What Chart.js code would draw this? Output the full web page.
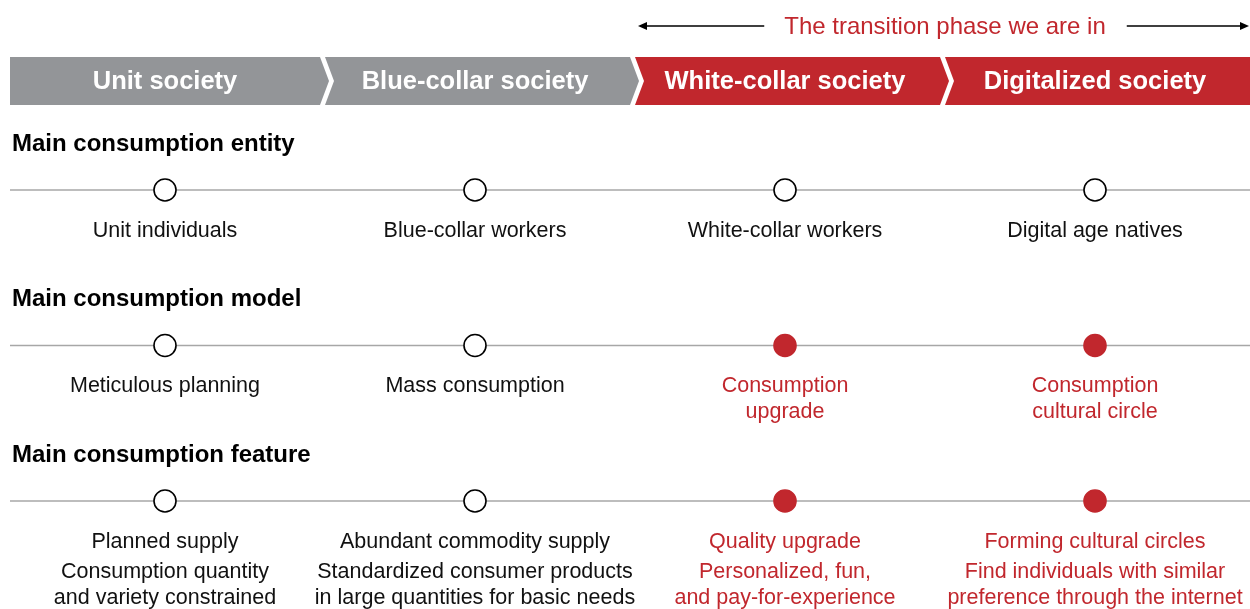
<!DOCTYPE html>
<html>
<head>
<meta charset="utf-8">
<script src="https://cdn.jsdelivr.net/npm/chart.js@4.4.1/dist/chart.umd.min.js"></script>
<style>
  html, body { margin: 0; padding: 0; background: #fff; }
  #wrap { width: 1250px; height: 609px; position: relative; }
</style>
</head>
<body>
<div id="wrap"><canvas id="chart"></canvas></div>
<script>
// stages across the top banner
const stages = ['Unit society', 'Blue-collar society', 'White-collar society', 'Digitalized society'];
const stageHighlight = [false, false, true, true];
const transitionText = 'The transition phase we are in';
const transitionFrom = 2;

// rows of the diagram
const rowTitles = ['Main consumption entity', 'Main consumption model', 'Main consumption feature'];
const entityLabels = [['Unit individuals'], ['Blue-collar workers'], ['White-collar workers'], ['Digital age natives']];
const modelLabels = [['Meticulous planning'], ['Mass consumption'], ['Consumption', 'upgrade'], ['Consumption', 'cultural circle']];
const featureLabels = [
    ['Planned supply', 'Consumption quantity', 'and variety constrained'],
    ['Abundant commodity supply', 'Standardized consumer products', 'in large quantities for basic needs'],
    ['Quality upgrade', 'Personalized, fun,', 'and pay-for-experience'],
    ['Forming cultural circles', 'Find individuals with similar', 'preference through the internet']
];
const entityFilled = [false, false, false, false];
const modelFilled = [false, false, true, true];
const featureFilled = [false, false, true, true];

const rowLabels = [entityLabels, modelLabels, featureLabels];
const rowFilled = [entityFilled, modelFilled, featureFilled];

const RED = '#c1272d';
const GREY = '#939598';
const FONT = '"Liberation Sans", Arial, Helvetica, sans-serif';

const datasets = [];
rowTitles.forEach((title, r) => {
    datasets.push({
        label: title + ' dots',
        data: stages.map((s, i) => ({ x: i, y: r })),
        showLine: false,
        pointRadius: 11,
        pointBorderWidth: 1.6,
        pointBackgroundColor: rowFilled[r].map(f => f ? RED : '#ffffff'),
        pointBorderColor: rowFilled[r].map(f => f ? RED : '#000000'),
        order: 0
    });
    datasets.push({
        label: title + ' line',
        data: [{ x: -0.5, y: r }, { x: stages.length - 0.5, y: r }],
        showLine: true,
        pointRadius: 0,
        borderColor: '#a7a7a7',
        borderWidth: 1.5,
        order: 1
    });
});

function arrowHead(ctx, tipX, y, dir) {
    ctx.beginPath();
    ctx.moveTo(tipX, y);
    ctx.lineTo(tipX - dir * 9, y - 4);
    ctx.lineTo(tipX - dir * 9, y + 4);
    ctx.closePath();
    ctx.fill();
}

const diagramPlugin = {
    id: 'diagram',
    beforeDatasetsDraw(chart) {
        const { ctx, scales: { x, y } } = chart;
        const row0 = y.getPixelForValue(0);
        const top = row0 - 133, bottom = row0 - 85, mid = (top + bottom) / 2;
        ctx.save();
        stages.forEach((name, i) => {
            const l = x.getPixelForValue(i - 0.5), r = x.getPixelForValue(i + 0.5);
            const first = i === 0, last = i === stages.length - 1;
            ctx.beginPath();
            ctx.moveTo(first ? l : l + 5, top);
            ctx.lineTo(r, top);
            if (!last) ctx.lineTo(r + 9, mid);
            ctx.lineTo(r, bottom);
            ctx.lineTo(first ? l : l + 5, bottom);
            if (!first) ctx.lineTo(l + 14, mid);
            ctx.closePath();
            ctx.fillStyle = stageHighlight[i] ? RED : GREY;
            ctx.fill();
            ctx.fillStyle = '#ffffff';
            ctx.font = 'bold 25.5px ' + FONT;
            ctx.textAlign = 'center';
            ctx.textBaseline = 'middle';
            ctx.fillText(name, (l + r) / 2, mid + 1);
        });

        // transition arrow
        const ay = row0 - 164;
        const tl = x.getPixelForValue(transitionFrom - 0.5) + 8;
        const tr = x.getPixelForValue(stages.length - 0.5) - 1;
        const tc = x.getPixelForValue((transitionFrom - 0.5 + stages.length - 0.5) / 2) + 5;
        ctx.font = '24px ' + FONT;
        const tw = ctx.measureText(transitionText).width;
        ctx.fillStyle = RED;
        ctx.fillText(transitionText, tc, ay + 1);
        ctx.strokeStyle = '#000000';
        ctx.fillStyle = '#000000';
        ctx.lineWidth = 1.3;
        ctx.beginPath();
        ctx.moveTo(tl + 4, ay);
        ctx.lineTo(tc - tw / 2 - 20, ay);
        ctx.moveTo(tc + tw / 2 + 21, ay);
        ctx.lineTo(tr - 4, ay);
        ctx.stroke();
        arrowHead(ctx, tl, ay, -1);
        arrowHead(ctx, tr, ay, 1);
        ctx.restore();
    },
    afterDatasetsDraw(chart) {
        const { ctx, scales: { x, y } } = chart;
        ctx.save();
        rowTitles.forEach((title, r) => {
            const ry = y.getPixelForValue(r);
            ctx.fillStyle = '#000000';
            ctx.font = 'bold 24px ' + FONT;
            ctx.textAlign = 'left';
            ctx.textBaseline = 'middle';
            ctx.fillText(title, 12, ry - 46);

            ctx.font = '21.5px ' + FONT;
            ctx.textAlign = 'center';
            rowLabels[r].forEach((lines, i) => {
                ctx.fillStyle = rowFilled[r][i] ? RED : '#111111';
                let ly = ry + 41;
                lines.forEach((txt, k) => {
                    ctx.fillText(txt, x.getPixelForValue(i), ly);
                    ly += (k === 0 && lines.length > 2) ? 30 : 26;
                });
            });
        });
        ctx.restore();
    }
};

// pixel mapping: stage index -> 310px per stage starting at x=10, row index -> 155.5px per row with row 0 at y=190
const xMin = -0.5 - 10 / 310;
const xMax = stages.length - 0.5;
const yMin = -190 / 155.5;
const yMax = (609 - 190) / 155.5;

new Chart(document.getElementById('chart'), {
    type: 'scatter',
    data: { datasets },
    options: {
        responsive: true,
        maintainAspectRatio: false,
        animation: false,
        events: [],
        layout: { padding: 0, autoPadding: false },
        plugins: { legend: { display: false }, tooltip: { enabled: false } },
        scales: {
            x: { type: 'linear', display: false, min: xMin, max: xMax },
            y: { type: 'linear', display: false, min: yMin, max: yMax, reverse: true }
        },
        elements: { line: { tension: 0 } }
    },
    plugins: [diagramPlugin]
});
</script>
</body>
</html>
